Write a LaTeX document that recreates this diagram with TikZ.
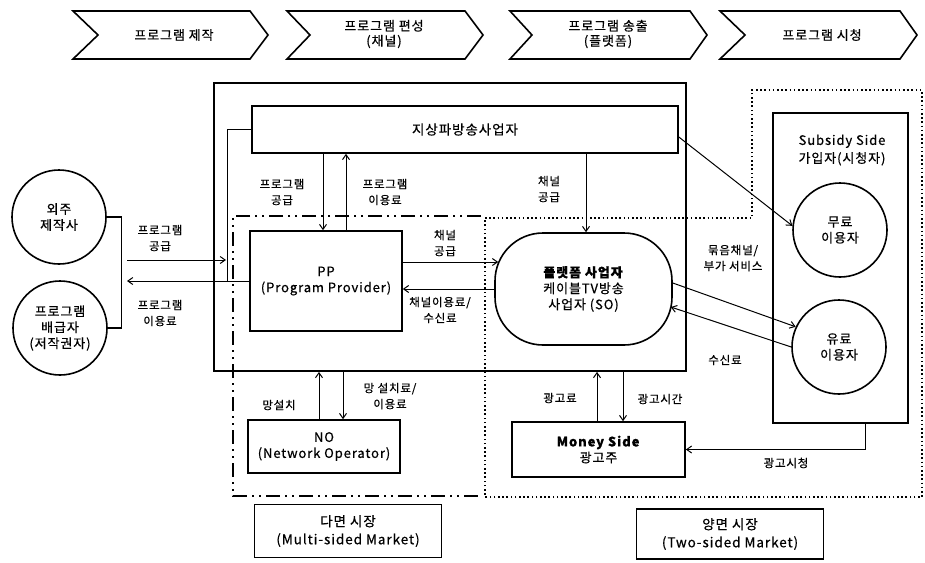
\documentclass[tikz,border=0pt]{standalone}
\usepackage{fontspec}
\setmainfont{Noto Sans CJK KR}[LetterSpace=7, FakeBold=0.6]
\usetikzlibrary{arrows.meta}
\begin{document}
\begin{tikzpicture}[x=1pt,y=-1pt,
  box/.style={draw, line width=1.6pt, inner sep=0pt, align=center, font=\fontsize{13}{16}\selectfont},
  lbl/.style={inner sep=1pt, align=center, font=\fontsize{11.5}{16}\selectfont},
  hdr/.style={inner sep=1pt, align=center, font=\fontsize{13}{15}\selectfont},
  arr/.style={-{Straight Barb[length=5pt,width=7pt]}, line width=1pt},
  chev/.style={line width=1.6pt, line join=miter},
  circ/.style={draw, circle, line width=1.6pt, minimum size=94pt, inner sep=0pt, align=center, font=\fontsize{13}{16}\selectfont},
  mdot/.style={line width=1.6pt, dash pattern=on 1.6pt off 2.6pt},
  mdash/.style={line width=2pt, dash pattern=on 14pt off 5pt on 2pt off 5pt on 2pt off 5pt},
  ]
\useasboundingbox (0,0) rectangle (925,562);

% process chevrons
\foreach \a/\b/\c/\d in {73/98/250/268, 287/310/465/483, 510/532/690/707, 720/745/900/917}
  \draw[chev] (\a,11) -- (\c,11) -- (\d,35) -- (\c,59) -- (\a,59) -- (\b,35) -- cycle;
\node[hdr] (h1) at (174,35) {프로그램 제작};
\node[hdr] (h2) at (384,34) {프로그램 편성\\(채널)};
\node[hdr] (h3) at (608,34) {프로그램 송출\\(플랫폼)};
\node[hdr] (h4) at (822,35) {프로그램 시청};

% market regions
\draw[mdot] (485,218) -- (752,218) -- (752,90) -- (922,90) -- (922,497) -- (485,497) -- cycle;
\draw[mdash] (481,216) -- (233,216) -- (233,496) -- (481,496);

% boxes
\node[draw, line width=1.8pt, minimum width=472pt, minimum height=288pt, inner sep=0pt] (outer) at (450,227) {};
\node[box, minimum width=426pt, minimum height=47pt, font=\fontsize{13.5}{16}\selectfont] (tv) at (465,129.5) {지상파방송사업자};
\node[box, minimum width=152pt, minimum height=100pt] (pp) at (326,281) {PP\\(Program Provider)};
\node[box, minimum width=177pt, minimum height=112pt, rounded corners=48pt] (so) at (583.5,289) {\textbf{플랫폼 사업자}\\케이블TV방송\\사업자 (SO)};
\node[box, minimum width=152pt, minimum height=53pt] (no) at (324,446.5) {NO\\(Network Operator)};
\node[box, minimum width=173pt, minimum height=55pt] (money) at (598.5,449.5) {\textbf{Money Side}\\광고주};
\node[box, minimum width=135pt, minimum height=310pt] (sub) at (840.5,268) {};
\node[lbl, font=\fontsize{13}{18}\selectfont] (subt) at (842,150) {Subsidy Side\\가입자(시청자)};
\node[circ] (free) at (840,230) {무료\\이용자};
\node[circ] (paid) at (839,347) {유료\\이용자};
\node[circ] (c1) at (59,217) {외주\\제작사};
\node[circ] (c2) at (60,328) {프로그램\\배급자\\(저작권자)};
\node[box, line width=1.3pt, minimum width=187pt, minimum height=53pt, font=\fontsize{13.5}{18}\selectfont] (multi) at (348,531) {다면 시장\\(Multi-sided Market)};
\node[box, line width=1.3pt, minimum width=187pt, minimum height=50pt, font=\fontsize{13.5}{18}\selectfont] (two) at (730,534) {양면 시장\\(Two-sided Market)};

% connectors
\draw[arr] ([xshift=-3pt]pp.north |- tv.south) -- ([xshift=-3pt]pp.north);
\draw[arr] ([xshift=20pt]pp.north) -- ([xshift=20pt]pp.north |- tv.south);
\draw[arr] ([xshift=2.5pt]so.north |- tv.south) -- ([xshift=2.5pt]so.north);
\draw[arr] ([yshift=19pt]pp.east) -- ([yshift=19pt,xshift=4pt]pp.east -| so.west);
\draw[arr] (so.west) -- (so.west -| pp.east);
\draw[arr] ([yshift=-7.5pt]tv.east) -- (free.175);
\draw[arr] ([yshift=6pt]so.east) -- (paid.155);
\draw[arr] (paid.west) -- ([yshift=-18pt,xshift=-2pt]so.east);
\draw[arr] ([xshift=-5pt]no.north) -- ([xshift=-5pt]no.north |- outer.south);
\draw[arr] ([xshift=19pt]no.north |- outer.south) -- ([xshift=19pt]no.north);
\draw[arr] ([xshift=-1.5pt]money.north) -- ([xshift=-1.5pt]money.north |- outer.south);
\draw[arr] ([xshift=24.5pt]money.north |- outer.south) -- ([xshift=24.5pt]money.north);
\draw[arr] ([xshift=24.5pt]sub.south) |- (money.east);

\draw[line width=1.1pt] (c1.east) -- ++(15,0) |- (c2.east);
\coordinate (la) at (127,260);
\coordinate (lb) at (226,260);
\coordinate (lc) at (227,0);
\coordinate (ld) at (127,0);
\draw[arr] (la) -- (lb);
\draw[arr] (pp.west) -- (pp.west -| ld);
\draw[line width=1pt] (tv.west) -| (pp.west -| lc);

% labels
\node[lbl] (l1) at (160,238) {프로그램\\공급};
\node[lbl] (l2) at (160,313) {프로그램\\이용료};
\node[lbl] (l3) at (282,192) {프로그램\\공급};
\node[lbl] (l4) at (385,192) {프로그램\\이용료};
\node[lbl] (l5) at (549,189) {채널\\공급};
\node[lbl] (l6) at (445,243) {채널\\공급};
\node[lbl] (l7) at (440,310) {채널이용료/\\수신료};
\node[lbl] (l8) at (733,258) {묶음채널/\\부가 서비스};
\node[lbl] (l9) at (725,360) {수신료};
\node[lbl] (l10) at (279,405) {망설치};
\node[lbl] (l11) at (390,396) {망 설치료/\\이용료};
\node[lbl] (l12) at (560,398) {광고료};
\node[lbl] (l13) at (660,399) {광고시간};
\node[lbl] (l14) at (786,463) {광고시청};
\end{tikzpicture}
\end{document}
